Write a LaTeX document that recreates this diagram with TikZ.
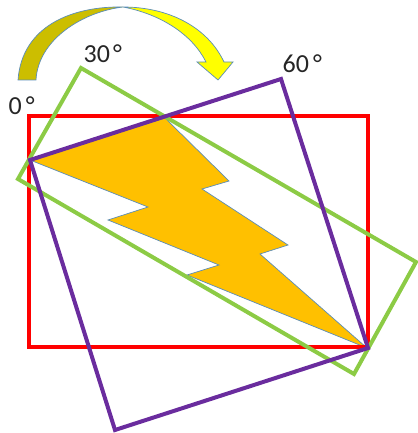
\documentclass[tikz,border=0pt]{standalone}
\usepackage{fontspec}
\setmainfont{Carlito}
\definecolor{redline}{HTML}{FF0000}
\definecolor{greenline}{HTML}{8CCB45}
\definecolor{purpleline}{HTML}{6A2C9E}
\definecolor{boltfill}{HTML}{FFC000}
\definecolor{thinblue}{HTML}{5B8DB8}
\definecolor{olive}{HTML}{CCBE00}
\definecolor{brightyellow}{HTML}{FFFF00}
\tikzset{
  frame/.style={line width=4pt,line join=miter},
  thin outline/.style={draw=thinblue,line width=0.7pt,line join=miter},
  deg/.style={inner sep=0pt,text=black!85,font=\fontsize{26}{26}\selectfont,anchor=base west}
}
\begin{document}
\begin{tikzpicture}[x=1pt,y=-1pt]
\useasboundingbox (0,0) rectangle (417,433);
% curved arrow
\path[fill=olive,thin outline] (18,80) .. controls (22,26) and (72,6) .. (123,7)
  .. controls (82,12) and (38,40) .. (36,80) -- cycle;
\path[fill=brightyellow,thin outline] (123,7) .. controls (170,7) and (208,28) .. (224,62)
  -- (233,62) -- (218,80) -- (197,62) -- (206,62)
  .. controls (192,34) and (160,14) .. (123,7) -- cycle;
% lightning bolt
\path[fill=boltfill,thin outline] (30,160) -- (165,118) -- (229,181) -- (202,189) -- (288,245)
  -- (260,254) -- (367,348) -- (187,275) -- (219,265) -- (108,220) -- (148,207) -- cycle;
% frames
\draw[frame,redline] (29,116) rectangle (368,347);
\draw[frame,greenline] (81,68) -- (416,262) -- (354,374) -- (18,179) -- cycle;
\draw[frame,purpleline] (30,160) -- (281,79) -- (368,348) -- (115,430) -- cycle;
% labels
\node[deg] (a0) at (8.5,114) {0\kern4pt °};
\node[deg] (a30) at (83.5,63) {30\kern3pt °};
\node[deg] (a60) at (282.5,73) {60\kern4pt °};
\end{tikzpicture}
\end{document}
